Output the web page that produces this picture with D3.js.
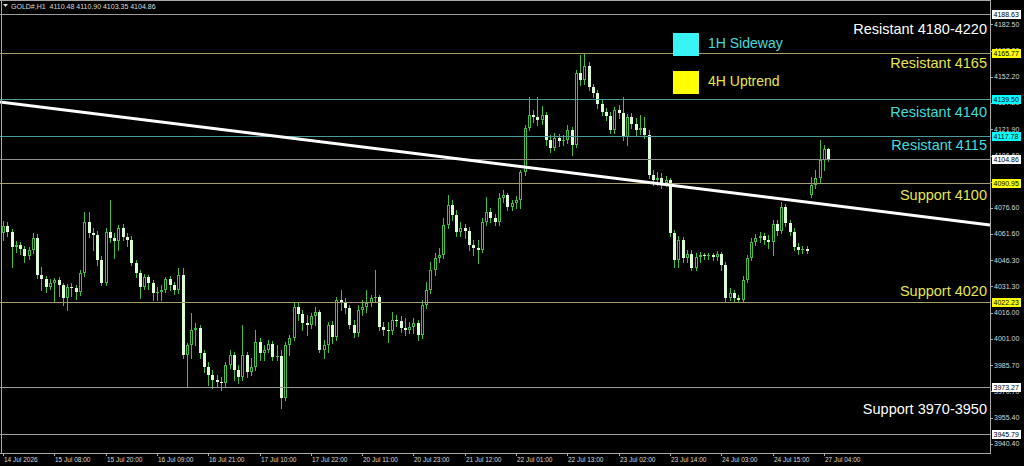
<!DOCTYPE html>
<html><head><meta charset="utf-8">
<script src="https://cdn.jsdelivr.net/npm/d3@7"></script>
<style>html,body{margin:0;padding:0;background:#000;overflow:hidden}</style>
</head><body>
<svg id="c" width="1024" height="466"></svg>
<script>
// ---------------- DATA ----------------
const headerText = "GOLD#,H1  4110.48 4110.90 4103.35 4104.86";
const timeLabels = ["14 Jul 2026","15 Jul 08:00","15 Jul 20:00","16 Jul 09:00","16 Jul 21:00","17 Jul 10:00","17 Jul 22:00","20 Jul 11:00","20 Jul 23:00","21 Jul 12:00","22 Jul 01:00","22 Jul 13:00","23 Jul 02:00","23 Jul 14:00","24 Jul 03:00","24 Jul 15:00","27 Jul 04:00"];
const timeLabelBars = [0,12,24,36,48,60,72,84,96,108,120,132,144,156,168,180,192];
const priceTicks = [4182.50,4167.20,4152.20,4137.20,4121.90,4106.60,4091.60,4076.60,4061.60,4046.30,4031.30,4016.00,4001.00,3985.70,3970.70,3955.40,3940.40];

const opens = [4062.0,4066.1,4062.6,4053.9,4055.1,4052.8,4048.8,4052.2,4059.1,4037.8,
4035.5,4030.9,4033.2,4034.9,4032.0,4024.5,4030.9,4030.3,4028.0,4038.9,
4068.4,4062.0,4060.9,4046.4,4033.2,4062.6,4059.1,4057.4,4064.9,4059.7,
4058.0,4044.7,4038.9,4030.9,4036.6,4033.2,4027.4,4028.0,4029.1,4035.5,
4032.0,4029.1,4037.8,3991.6,3997.4,4006.0,4007.2,3992.8,3984.7,3980.1,
3977.2,3976.0,3975.4,3985.8,3991.6,3982.9,3978.9,3991.6,3981.8,3984.7,
3999.1,3992.8,3994.5,3997.9,3990.4,3991.0,3966.8,3997.4,4001.4,4019.3,
4015.3,4010.1,4008.9,4014.1,4016.4,3994.5,3997.4,4008.9,4002.0,4023.4,
4021.6,4018.7,4008.9,4004.3,4017.6,4019.3,4021.6,4024.5,4025.1,4007.8,
4006.0,4005.5,4011.8,4011.2,4007.2,4006.0,4007.8,4010.1,4003.1,4020.5,
4029.1,4040.7,4047.6,4049.3,4066.6,4078.2,4072.4,4062.6,4064.9,4063.2,
4055.1,4053.4,4052.2,4068.4,4074.2,4070.7,4068.4,4082.2,4084.0,4077.0,
4079.3,4081.1,4097.2,4122.6,4130.1,4129.0,4127.3,4130.1,4115.7,4111.1,
4116.9,4115.1,4115.7,4121.5,4112.8,4154.4,4150.3,4158.4,4146.3,4142.8,
4136.5,4131.9,4129.6,4121.5,4133.0,4131.3,4117.4,4129.0,4124.9,4121.5,
4122.6,4118.6,4095.5,4092.6,4093.8,4090.9,4092.6,4062.0,4046.4,4058.0,
4047.6,4049.9,4041.8,4048.2,4049.3,4048.8,4049.1,4048.2,4049.9,4043.6,
4024.5,4027.4,4024.5,4023.4,4034.9,4047.6,4056.8,4059.1,4060.3,4058.0,
4056.8,4067.2,4063.2,4077.0,4067.8,4062.6,4053.9,4052.2,4052.8,4084.0,
4089.7,4093.8,4104.2,4110.48];

const highs = [4069.0,4068.4,4064.3,4057.4,4056.8,4054.5,4053.9,4062.0,4061.5,4042.4,
4037.2,4035.5,4036.1,4036.6,4033.2,4032.6,4033.2,4032.0,4040.7,4074.2,
4074.2,4064.9,4063.2,4048.8,4064.9,4081.1,4062.0,4066.6,4067.2,4062.0,
4060.3,4046.4,4040.7,4038.4,4037.8,4034.9,4030.9,4032.0,4036.6,4037.2,
4033.7,4041.8,4041.8,3998.5,4015.8,4010.1,4008.9,3994.5,3987.6,3982.9,
3980.1,3978.9,3987.6,3994.5,3993.3,3985.8,4008.9,3993.3,3989.9,4006.0,
4001.4,3997.4,4000.3,3999.7,3997.4,3994.5,3999.1,4003.1,4021.6,4021.6,
4017.6,4014.7,4015.8,4019.3,4017.6,4000.3,4010.7,4011.2,4025.1,4029.1,
4024.5,4020.5,4011.8,4020.5,4023.4,4029.1,4026.2,4040.7,4026.2,4010.7,
4010.7,4016.4,4014.7,4014.1,4013.0,4010.7,4013.0,4011.8,4023.4,4033.7,
4045.3,4050.5,4053.4,4070.7,4084.0,4081.1,4075.3,4068.4,4067.2,4065.5,
4058.0,4058.0,4070.7,4082.8,4076.5,4073.0,4085.1,4086.9,4085.1,4081.1,
4083.4,4098.4,4124.4,4140.5,4133.0,4140.5,4135.3,4131.9,4118.6,4119.8,
4119.2,4118.6,4124.4,4123.2,4156.1,4164.8,4165.77,4160.7,4148.0,4144.6,
4138.8,4134.2,4131.9,4134.8,4135.9,4140.5,4130.7,4131.3,4128.4,4130.1,
4129.0,4121.5,4098.4,4097.2,4096.7,4094.9,4093.8,4063.8,4060.3,4059.7,
4052.2,4052.2,4050.5,4051.1,4050.5,4050.5,4050.5,4051.6,4051.1,4045.3,
4030.3,4029.1,4026.2,4037.2,4049.3,4059.1,4061.5,4062.6,4062.0,4060.9,
4069.5,4069.5,4079.9,4078.8,4069.5,4064.9,4056.3,4054.5,4054.5,4094.4,
4098.4,4115.7,4112.8,4110.90];

const lows = [4058.0,4060.3,4042.4,4051.1,4049.9,4045.3,4047.0,4050.5,4036.1,4029.1,
4028.0,4029.7,4022.2,4025.7,4020.5,4017.6,4025.7,4023.9,4026.2,4037.2,
4059.7,4052.2,4043.6,4032.0,4032.0,4056.8,4047.6,4052.2,4058.0,4054.5,
4043.6,4036.6,4024.5,4029.7,4029.7,4023.4,4023.4,4023.4,4028.0,4029.1,
4026.8,4027.4,3989.9,3973.1,3989.9,3997.4,3989.9,3981.8,3974.3,3972.6,
3973.1,3971.4,3973.7,3984.1,3977.2,3975.4,3977.2,3978.9,3980.1,3982.9,
3988.7,3988.7,3993.3,3988.7,3988.7,3961.0,3965.6,3991.6,4000.3,4011.8,
4006.0,4003.1,4007.2,4008.9,3993.3,3989.9,3993.3,3998.5,4000.3,4017.6,
4015.8,4007.2,4002.0,4002.6,4014.7,4016.4,4019.9,4022.2,4006.0,4003.1,
3999.1,4003.7,4008.3,4004.9,4003.1,4004.3,4004.3,4000.3,4001.4,4018.7,
4027.4,4037.8,4045.3,4047.6,4064.9,4069.5,4060.3,4060.3,4059.1,4052.2,
4049.3,4044.7,4051.1,4066.6,4068.4,4066.6,4066.6,4079.9,4075.3,4075.3,
4076.5,4076.5,4095.5,4121.5,4126.1,4124.4,4124.9,4112.8,4108.8,4109.9,
4112.3,4112.8,4114.0,4107.1,4111.7,4147.5,4148.0,4144.6,4140.5,4134.2,
4130.1,4127.3,4119.8,4119.8,4128.4,4115.7,4112.8,4122.6,4118.6,4119.2,
4116.9,4093.8,4089.7,4089.7,4088.0,4089.2,4060.3,4042.4,4042.4,4045.3,
4045.3,4040.7,4040.7,4045.3,4047.0,4047.0,4046.4,4046.4,4040.7,4022.8,
4023.4,4022.8,4022.23,4022.3,4033.7,4046.4,4055.1,4056.8,4055.7,4053.4,
4049.3,4060.9,4062.0,4066.1,4060.9,4052.2,4049.9,4050.5,4050.5,4082.8,
4088.0,4091.5,4098.4,4103.35];

const closes = [4066.1,4062.6,4053.9,4055.1,4052.8,4048.8,4052.2,4059.1,4037.8,4035.5,
4030.9,4033.2,4034.9,4032.0,4024.5,4030.9,4030.3,4028.0,4038.9,4068.4,
4062.0,4060.9,4046.4,4033.2,4062.6,4059.1,4057.4,4064.9,4059.7,4058.0,
4044.7,4038.9,4030.9,4036.6,4033.2,4027.4,4028.0,4029.1,4035.5,4032.0,
4029.1,4037.8,3991.6,3997.4,4006.0,4007.2,3992.8,3984.7,3980.1,3977.2,
3976.0,3975.4,3985.8,3991.6,3982.9,3978.9,3991.6,3981.8,3984.7,3999.1,
3992.8,3994.5,3997.9,3990.4,3991.0,3966.8,3997.4,4001.4,4019.3,4015.3,
4010.1,4008.9,4014.1,4016.4,3994.5,3997.4,4008.9,4002.0,4023.4,4021.6,
4018.7,4008.9,4004.3,4017.6,4019.3,4021.6,4024.5,4025.1,4007.8,4006.0,
4005.5,4011.8,4011.2,4007.2,4006.0,4007.8,4010.1,4003.1,4020.5,4029.1,
4040.7,4047.6,4049.3,4066.6,4078.2,4072.4,4062.6,4064.9,4063.2,4055.1,
4053.4,4052.2,4068.4,4074.2,4070.7,4068.4,4082.2,4084.0,4077.0,4079.3,
4081.1,4097.2,4122.6,4130.1,4129.0,4127.3,4130.1,4115.7,4111.1,4116.9,
4115.1,4115.7,4121.5,4112.8,4154.4,4150.3,4158.4,4146.3,4142.8,4136.5,
4131.9,4129.6,4121.5,4133.0,4131.3,4117.4,4129.0,4124.9,4121.5,4122.6,
4118.6,4095.5,4092.6,4093.8,4090.9,4092.6,4062.0,4046.4,4058.0,4047.6,
4049.9,4041.8,4048.2,4049.3,4048.8,4049.1,4048.2,4049.9,4043.6,4024.5,
4027.4,4024.5,4023.4,4034.9,4047.6,4056.8,4059.1,4060.3,4058.0,4056.8,
4067.2,4063.2,4077.0,4067.8,4062.6,4053.9,4052.2,4052.8,4051.6,4089.7,
4093.8,4104.2,4110.5,4104.86];

const levelPrices = [4188.63,4165.77,4139.50,4117.78,4104.86,4090.95,4022.23,3973.27,3945.79];
const levelKinds  = ["zone","h4","h1","h1","bid","h4","h4","zone","zone"];

const annTexts  = ["Resistant 4180-4220","Resistant 4165","Resistant 4140","Resistant 4115","Support 4100","Support 4020","Support 3970-3950"];
const annKinds  = ["zone","h4","h1","h1","h4","h4","zone"];
const annLevels = [4188.63,4165.77,4139.50,4117.78,4090.95,4022.23,3973.27];

const legendTexts = ["1H Sideway","4H Uptrend"];
const legendKinds = ["h1","h4"];

const trendBars   = [0,193];
const trendPrices = [4137.4,4078.3];

// ---------------- STYLE / LAYOUT ----------------
const W = 1024, H = 466, plotR = 990, plotB = 453;
const lineColor = {zone:"#9c9c9c", bid:"#8c8c8c", h4:"#a49e6a", h1:"#4a9c9c"};
const boxColor  = {zone:"#ffffff", bid:"#ffffff", h4:"#ffff00", h1:"#00ffff"};
const textColor = {zone:"#ffffff", h4:"#e6e64c", h1:"#40dcdc"};
const swatchColor = {h1:"#38f4f4", h4:"#ffff00"};
const annOffsets = [20.5,14.5,18,13.5,17.5,-6,27];
const font = "'Liberation Sans', Arial, sans-serif";
const wickCol = "#44bc44", bearFill = "#dcfcd6";

const svg = d3.select("#c");
svg.append("rect").attr("width",W).attr("height",H).attr("fill","#000");
svg.append("defs").append("clipPath").attr("id","pc")
   .append("rect").attr("x",0).attr("y",0).attr("width",plotR).attr("height",plotB);

const x = d3.scaleLinear().domain([0,193]).range([3, 3 + 193*4.275]);
const y = d3.scaleLinear().domain([3940.40,4182.50]).range([443.7,24.3]);

const plot = svg.append("g").attr("clip-path","url(#pc)");

// candles
const bars = d3.range(opens.length).map(i => ({i, o:opens[i], h:highs[i], l:lows[i], c:closes[i]}));
const cx = d => Math.round(x(d.i)) + 0.5;
plot.append("g").selectAll("line").data(bars).join("line")
  .attr("x1",cx).attr("x2",cx)
  .attr("y1",d=>Math.round(y(d.h))).attr("y2",d=>Math.round(y(d.l))+1)
  .attr("stroke",wickCol).attr("stroke-width",1);

const bodyG = plot.append("g");
bars.forEach(d => {
  const top = Math.round(y(Math.max(d.o,d.c)));
  const bot = Math.round(y(Math.min(d.o,d.c)));
  const h = Math.max(1, bot - top);
  const c = cx(d);
  if (d.c >= d.o) {
    if (h <= 2) {
      bodyG.append("rect").attr("x",c-1.5).attr("y",top).attr("width",3).attr("height",h).attr("fill",wickCol);
    } else {
      bodyG.append("rect").attr("x",c-1).attr("y",top+0.5).attr("width",2).attr("height",h-1)
        .attr("fill","#000").attr("stroke",wickCol).attr("stroke-width",1);
    }
  } else {
    bodyG.append("rect").attr("x",c-1.5).attr("y",top).attr("width",3).attr("height",h).attr("fill",bearFill);
  }
});

// horizontal levels
plot.append("g").selectAll("line").data(levelPrices).join("line")
  .attr("x1",0).attr("x2",plotR)
  .attr("y1",p=>Math.round(y(p))+0.5).attr("y2",p=>Math.round(y(p))+0.5)
  .attr("stroke",(p,i)=>lineColor[levelKinds[i]]).attr("stroke-width",1);

// trend line (ray extended across plot)
const slope = (trendPrices[1]-trendPrices[0])/(trendBars[1]-trendBars[0]);
const b0 = x.invert(0), b1 = x.invert(plotR);
const tp = b => trendPrices[0] + slope*(b - trendBars[0]);
plot.append("line")
  .attr("x1",x(b0)).attr("y1",y(tp(b0))).attr("x2",x(b1)).attr("y2",y(tp(b1)))
  .attr("stroke","#ffffff").attr("stroke-width",3);

// annotations
svg.append("g").selectAll("text").data(annTexts).join("text")
  .attr("x",987).attr("y",(t,i)=>y(annLevels[i]) + annOffsets[i])
  .attr("text-anchor","end").attr("font-family",font).attr("font-size",14.5)
  .attr("fill",(t,i)=>textColor[annKinds[i]]).text(t=>t);

// legend
const legY = [33,71];
const leg = svg.append("g");
legendTexts.forEach((t,i) => {
  leg.append("rect").attr("x",673).attr("y",legY[i]).attr("width",26).attr("height",23).attr("fill",swatchColor[legendKinds[i]]);
  leg.append("text").attr("x",708).attr("y",legY[i]+15).attr("font-family",font).attr("font-size",14)
    .attr("fill",textColor[legendKinds[i]]).text(t);
});

// frame
const axCol = "#a8a8a8";
svg.append("line").attr("x1",0).attr("x2",plotR).attr("y1",0.5).attr("y2",0.5).attr("stroke",axCol);
svg.append("line").attr("x1",1.5).attr("x2",1.5).attr("y1",0).attr("y2",plotB).attr("stroke",axCol);
svg.append("line").attr("x1",plotR+0.5).attr("x2",plotR+0.5).attr("y1",0).attr("y2",plotB+1).attr("stroke",axCol);
svg.append("line").attr("x1",0).attr("x2",plotR+1).attr("y1",plotB+0.5).attr("y2",plotB+0.5).attr("stroke",axCol);

// right price axis
const ra = svg.append("g");
ra.selectAll("line").data(priceTicks).join("line")
  .attr("x1",plotR).attr("x2",plotR+3)
  .attr("y1",p=>Math.round(y(p))+0.5).attr("y2",p=>Math.round(y(p))+0.5).attr("stroke",axCol);
ra.selectAll("text").data(priceTicks).join("text")
  .attr("x",994).attr("y",p=>y(p)).attr("dy","0.35em")
  .attr("font-family",font).attr("font-size",7).attr("fill","#d8d8d8")
  .text(p=>p.toFixed(2));

// level price boxes
const lb = svg.append("g");
levelPrices.forEach((p,i) => {
  const yy = Math.round(y(p));
  lb.append("rect").attr("x",992).attr("y",yy-4).attr("width",29).attr("height",9).attr("fill",boxColor[levelKinds[i]]);
  lb.append("text").attr("x",993.5).attr("y",yy+0.5).attr("dy","0.35em")
    .attr("font-family",font).attr("font-size",7).attr("fill","#000").text(p.toFixed(2));
});

// time axis
const ta = svg.append("g");
ta.selectAll("line").data(timeLabelBars).join("line")
  .attr("x1",b=>Math.round(x(b))+0.5).attr("x2",b=>Math.round(x(b))+0.5)
  .attr("y1",plotB).attr("y2",plotB+3).attr("stroke",axCol);
ta.selectAll("text").data(timeLabels).join("text")
  .attr("x",(t,i)=>Math.round(x(timeLabelBars[i]))+1).attr("y",462)
  .attr("font-family",font).attr("font-size",6.5).attr("fill","#d8d8d8").text(t=>t);

// header
svg.append("path").attr("d","M3,4 L8,4 L5.5,7 Z").attr("fill","#e0e0e0");
svg.append("text").attr("x",11).attr("y",9).attr("font-family",font).attr("font-size",7)
  .attr("fill","#dcdcdc").attr("xml:space","preserve").style("white-space","pre").text(headerText);
</script>
</body></html>
